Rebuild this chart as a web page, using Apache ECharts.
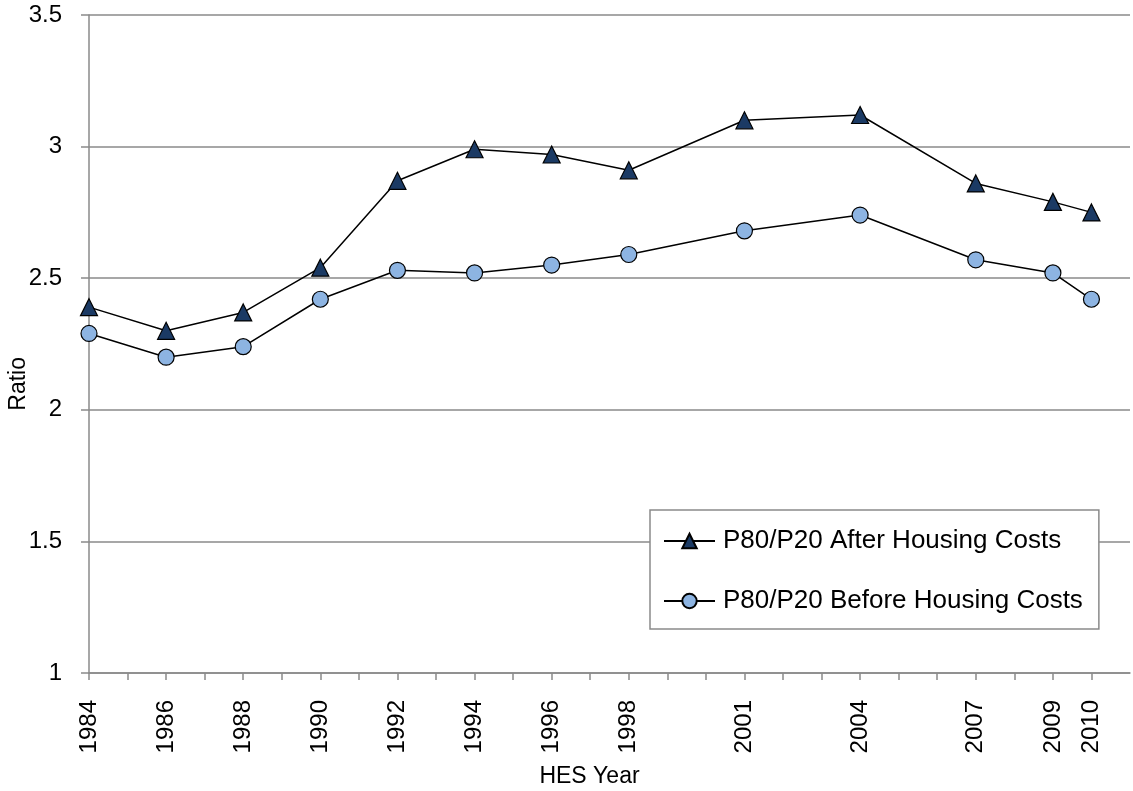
<!DOCTYPE html>
<html>
<head>
<meta charset="utf-8">
<script src="https://cdn.jsdelivr.net/npm/echarts@6/dist/echarts.min.js"></script>
<style>
  html, body { margin: 0; padding: 0; background: #fff; }
  #chart { width: 1133px; height: 791px; }
</style>
</head>
<body>
<div id="chart"></div>
<script>
const years = [1984, 1986, 1988, 1990, 1992, 1994, 1996, 1998, 2001, 2004, 2007, 2009, 2010];
const afterHousing = [2.39, 2.30, 2.37, 2.54, 2.87, 2.99, 2.97, 2.91, 3.10, 3.12, 2.86, 2.79, 2.75];
const beforeHousing = [2.29, 2.20, 2.24, 2.42, 2.53, 2.52, 2.55, 2.59, 2.68, 2.74, 2.57, 2.52, 2.42];

const font = 'Liberation Sans, Arial, sans-serif';
const gridGray = '#8a8a8a';

const pairs = (vals) => years.map((y, i) => [y, vals[i]]);

const chart = echarts.init(document.getElementById('chart'));
chart.setOption({
  animation: false,
  backgroundColor: '#fff',
  grid: { left: 89, right: 3, top: 15, bottom: 118, outerBoundsMode: 'none' },
  // y axis title, placed like the original (a bit below the middle)
  graphic: [{
    type: 'text',
    left: 7,
    top: 357,
    rotation: Math.PI / 2,
    style: { text: 'Ratio', font: '23px ' + font, fill: '#000' }
  }],
  legend: {
    orient: 'vertical',
    left: 650,
    top: 510,
    padding: [18, 16, 15, 13],
    itemGap: 34,
    itemWidth: 51,
    itemHeight: 18,
    borderColor: gridGray,
    borderWidth: 1.5,
    backgroundColor: '#fff',
    textStyle: { fontFamily: font, fontSize: 26, color: '#000', padding: [0, 0, 0, 3] },
    data: ['P80/P20 After Housing Costs', 'P80/P20 Before Housing Costs']
  },
  xAxis: {
    type: 'value',
    min: 1984,
    max: 2011,
    interval: 1,
    name: 'HES Year',
    nameLocation: 'middle',
    nameGap: 92,
    nameTextStyle: { fontFamily: font, fontSize: 23, color: '#000', padding: [0, 40, 0, 0] },
    axisLine: { lineStyle: { color: gridGray, width: 1.5 } },
    axisTick: { length: 7, lineStyle: { color: gridGray, width: 1.5 } },
    splitLine: { show: false },
    axisLabel: {
      rotate: 90,
      margin: 27,
      fontFamily: font,
      fontSize: 24,
      color: '#000',
      showMaxLabel: false,
      formatter: (v) => (years.indexOf(v) >= 0 ? String(v) : '')
    }
  },
  yAxis: {
    type: 'value',
    min: 1,
    max: 3.5,
    interval: 0.5,
    axisLine: { show: true, lineStyle: { color: gridGray, width: 1.5 } },
    axisTick: { show: true, length: 8, lineStyle: { color: gridGray, width: 1.5 } },
    splitLine: { lineStyle: { color: gridGray, width: 1.5 } },
    axisLabel: { margin: 27, fontFamily: font, fontSize: 24, color: '#000' }
  },
  series: [
    {
      name: 'P80/P20 After Housing Costs',
      type: 'line',
      data: pairs(afterHousing),
      symbol: 'triangle',
      symbolSize: 17,
      lineStyle: { color: '#000', width: 1.5 },
      itemStyle: { color: '#1b3a64', borderColor: '#000', borderWidth: 1.2 },
      z: 3
    },
    {
      name: 'P80/P20 Before Housing Costs',
      type: 'line',
      data: pairs(beforeHousing),
      symbol: 'circle',
      symbolSize: 16,
      lineStyle: { color: '#000', width: 1.5 },
      itemStyle: { color: '#8db4e2', borderColor: '#000', borderWidth: 1.2 },
      z: 3
    }
  ]
});
</script>
</body>
</html>
